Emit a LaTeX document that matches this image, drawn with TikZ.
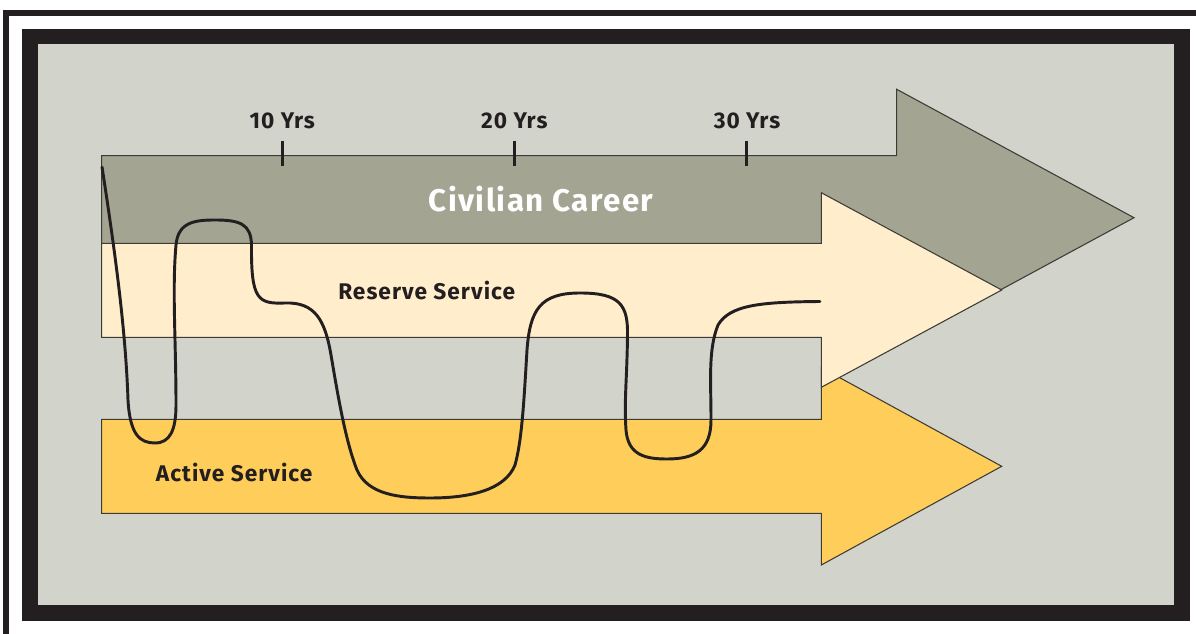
\documentclass[tikz,border=0pt]{standalone}
\usepackage{fontspec}
\setmainfont{Fira Sans}[LetterSpace=4.5]
\definecolor{bggrey}{HTML}{D2D3CA}
\definecolor{civgrey}{HTML}{A3A492}
\definecolor{cream}{HTML}{FFEDCB}
\definecolor{gold}{HTML}{FFCD59}
\definecolor{ink}{HTML}{231F20}
\definecolor{edge}{HTML}{3C3C37}
\tikzset{
  arrowshape/.style={draw=edge, line width=0.8pt, line join=miter},
  yearlabel/.style={anchor=base, text=ink, font=\fontsize{17}{17}\selectfont\bfseries, inner sep=0pt},
  bandlabel/.style={anchor=base, text=ink, font=\fontsize{17}{17}\selectfont\bfseries, inner sep=0pt},
  titlelabel/.style={anchor=base, text=white, font=\fontsize{23.5}{23.5}\selectfont\bfseries, inner sep=0pt},
  tickmark/.style={draw=ink, line width=2.1pt},
  pathline/.style={draw=ink, line width=2.2pt, line cap=round, line join=round}
}
\begin{document}
\begin{tikzpicture}[x=0.75pt, y=-0.75pt]
\useasboundingbox (0,0) rectangle (1196,634);
\clip (0,0) rectangle (1196,634);
% outer thin frame
\draw[ink, line width=4.5pt] (5.5,13) rectangle (1260,700);
% thick frame
\fill[ink] (22,29) rectangle (1190,621);
\fill[bggrey] (38,44) rectangle (1174,605);
% arrows
\filldraw[arrowshape, fill=civgrey] (101.7,155.7) -- (896.7,155.7) -- (896.7,89.3) -- (1134,217.7) -- (896.7,346) -- (896.7,279.4) -- (101.7,279.4) -- cycle;
\filldraw[arrowshape, fill=gold] (101.7,419.3) -- (821.3,419.3) -- (821.3,367.6) -- (1001.7,466.3) -- (821.3,565) -- (821.3,513.3) -- (101.7,513.3) -- cycle;
\filldraw[arrowshape, fill=cream] (101.7,243.3) -- (821.3,243.3) -- (821.3,192.7) -- (1001.7,290) -- (821.3,387.3) -- (821.3,337.3) -- (101.7,337.3) -- cycle;
% ticks
\coordinate (t1a) at (282.3,141); \coordinate (t1b) at (282.3,165.7);
\coordinate (t2a) at (514.3,141); \coordinate (t2b) at (514.3,165.7);
\coordinate (t3a) at (746.7,141); \coordinate (t3b) at (746.7,165.7);
\draw[tickmark] (t1a) -- (t1b);
\draw[tickmark] (t2a) -- (t2b);
\draw[tickmark] (t3a) -- (t3b);
% labels
\node[yearlabel] (y10) at (282.3,128.3) {10 Yrs};
\node[yearlabel] (y20) at (514.3,128.3) {20 Yrs};
\node[yearlabel] (y30) at (747,128.3) {30 Yrs};
\node[titlelabel] (civ) at (541,211.7) {Civilian Career};
\node[bandlabel] (res) at (426.7,299.3) {Reserve Service};
\node[bandlabel] (act) at (234.2,481.7) {Active Service};
% career path
\draw[pathline] (102,167) .. controls (118,270) and (126,340) .. (128,400)
  .. controls (130,435) and (140,443) .. (155,443)
  .. controls (170,443) and (176,430) .. (176,405)
  .. controls (176,340) and (172,290) .. (176,245)
  .. controls (178,222) and (195,220) .. (215,220)
  .. controls (240,220) and (251,224) .. (251.5,245)
  .. controls (251,300) and (258,304) .. (285,303)
  .. controls (315,302) and (325,320) .. (331,355)
  .. controls (337,390) and (345,440) .. (357,470)
  .. controls (368,495) and (400,498) .. (430,498)
  .. controls (470,498) and (505,490) .. (515,465)
  .. controls (522,440) and (524,400) .. (527,350)
  .. controls (530,310) and (540,293) .. (580,293)
  .. controls (620,293) and (628,305) .. (627.5,335)
  .. controls (627,380) and (624,400) .. (626,430)
  .. controls (628,455) and (645,459) .. (667,459)
  .. controls (695,459) and (711,450) .. (711,420)
  .. controls (711,380) and (708,350) .. (718,325)
  .. controls (730,305) and (760,302) .. (820,301.5);
\end{tikzpicture}
\end{document}
